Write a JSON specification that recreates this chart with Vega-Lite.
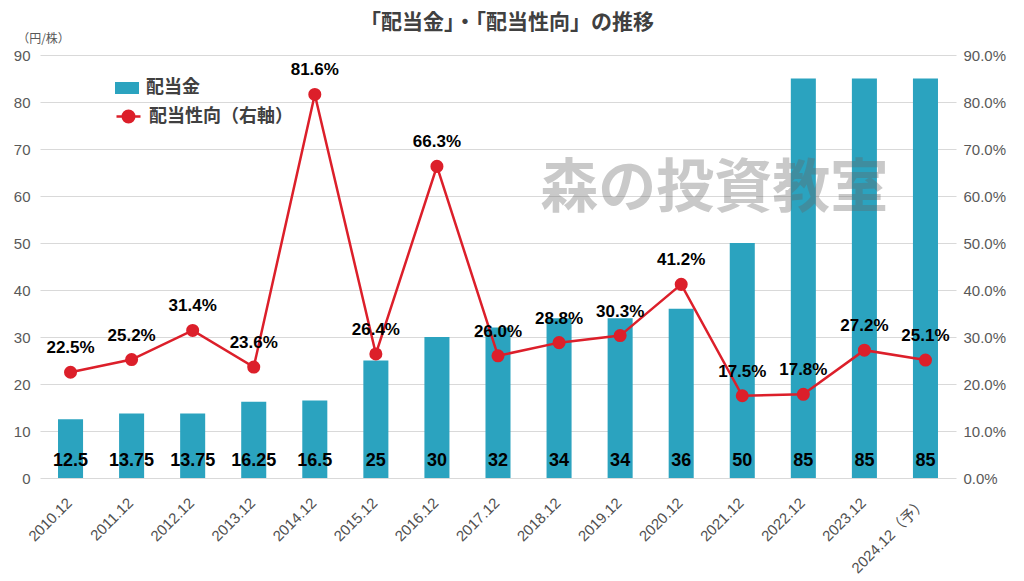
{
  "$schema": "https://vega.github.io/schema/vega-lite/v6.json",
  "width": 916,
  "height": 423,
  "autosize": "none",
  "padding": {"left": 40, "top": 55, "right": 68, "bottom": 103},
  "background": "white",
  "config": {
    "font": "Liberation Sans, Noto Sans CJK JP",
    "view": {"stroke": null},
    "axis": {"domain": false, "ticks": false, "labelColor": "#595959", "labelFontSize": 15, "gridColor": "#d9d9d9", "gridWidth": 1}
  },
  "title": {
    "text": "「配当金」・「配当性向」の推移",
    "fontSize": 21,
    "fontWeight": "bold",
    "color": "#404040",
    "font": "Noto Sans CJK JP",
    "anchor": "middle",
    "dx": 9,
    "offset": -1
  },
  "data": {
    "values": [
      {"period": "2010.12", "dividend": 12.5, "rate": 0.225},
      {"period": "2011.12", "dividend": 13.75, "rate": 0.252},
      {"period": "2012.12", "dividend": 13.75, "rate": 0.314},
      {"period": "2013.12", "dividend": 16.25, "rate": 0.236},
      {"period": "2014.12", "dividend": 16.5, "rate": 0.816},
      {"period": "2015.12", "dividend": 25, "rate": 0.264},
      {"period": "2016.12", "dividend": 30, "rate": 0.663},
      {"period": "2017.12", "dividend": 32, "rate": 0.260},
      {"period": "2018.12", "dividend": 34, "rate": 0.288},
      {"period": "2019.12", "dividend": 34, "rate": 0.303},
      {"period": "2020.12", "dividend": 36, "rate": 0.412},
      {"period": "2021.12", "dividend": 50, "rate": 0.175},
      {"period": "2022.12", "dividend": 85, "rate": 0.178},
      {"period": "2023.12", "dividend": 85, "rate": 0.272},
      {"period": "2024.12（予）", "dividend": 85, "rate": 0.251}
    ]
  },
  "encoding": {
    "x": {
      "field": "period",
      "type": "nominal",
      "sort": null,
      "scale": {"paddingInner": 0.59, "paddingOuter": 0.295},
      "axis": {"title": null, "labelAngle": -45, "labelAlign": "right", "labelBaseline": "top", "labelPadding": 17, "labelOffset": -6, "labelFontSize": 15, "labelColor": "#505050", "grid": false}
    }
  },
  "layer": [
    {
      "layer": [
        {
          "mark": {"type": "bar"},
          "encoding": {
            "y": {
              "field": "dividend",
              "type": "quantitative",
              "scale": {"domain": [0, 90]},
              "axis": {
                "values": [0, 10, 20, 30, 40, 50, 60, 70, 80, 90],
                "grid": true,
                "labelPadding": 10,
                "title": "（円/株）",
                "titleAngle": 0,
                "titleX": 3,
                "titleY": -17,
                "titleAlign": "center",
                "titleBaseline": "middle",
                "titleFont": "Noto Sans CJK JP",
                "titleFontSize": 12,
                "titleFontWeight": "normal",
                "titleColor": "#595959"
              }
            },
            "color": {
              "datum": "配当金",
              "scale": {"range": ["#2ba3bf"]},
              "legend": {
                "orient": "none",
                "legendX": 75,
                "legendY": 21,
                "title": null,
                "padding": 0,
                "symbolType": "M-1,-0.5H1V0.5H-1Z",
                "symbolSize": 576,
                "symbolOpacity": 1,
                "symbolStrokeWidth": 0,
                "labelOffset": 7,
                "labelFontSize": 18,
                "labelFontWeight": "bold",
                "labelColor": "#404040",
                "labelFont": "Noto Sans CJK JP"
              }
            }
          }
        },
        {
          "mark": {"type": "text", "fontSize": 18, "fontWeight": "bold", "color": "#000000", "baseline": "middle"},
          "encoding": {
            "y": {"datum": 3.7, "type": "quantitative"},
            "text": {"field": "dividend", "type": "nominal"}
          }
        },
        {
          "data": {"values": [{"mark_text": "森の投資教室"}]},
          "mark": {"type": "text", "fontSize": 58, "fontWeight": "bold", "font": "Noto Sans CJK JP", "color": "#666666", "opacity": 0.35, "baseline": "middle", "align": "center", "dx": 33},
          "encoding": {
            "x": {"datum": "2020.12"},
            "y": {"datum": 61.3, "type": "quantitative"},
            "text": {"field": "mark_text", "type": "nominal"}
          }
        }
      ]
    },
    {
      "layer": [
        {
          "mark": {"type": "line", "strokeWidth": 2.5, "point": {"size": 170, "filled": true, "opacity": 1}},
          "encoding": {
            "y": {
              "field": "rate",
              "type": "quantitative",
              "scale": {"domain": [0, 0.9]},
              "axis": {
                "orient": "right",
                "values": [0, 0.1, 0.2, 0.3, 0.4, 0.5, 0.6, 0.7, 0.8, 0.9],
                "format": ".1%",
                "grid": false,
                "labelPadding": 7,
                "title": null
              }
            },
            "color": {
              "datum": "配当性向（右軸）",
              "scale": {"range": ["#dc1f2a"]},
              "legend": {
                "orient": "none",
                "legendX": 75,
                "legendY": 48,
                "title": null,
                "padding": 0,
                "symbolType": "M-1,0H1M-0.48,0A0.48,0.48,0,1,1,0.48,0A0.48,0.48,0,1,1,-0.48,0Z",
                "symbolSize": 576,
                "symbolFillColor": "#dc1f2a",
                "symbolStrokeColor": "#dc1f2a",
                "symbolStrokeWidth": 2.5,
                "symbolOpacity": 1,
                "labelOffset": 7,
                "labelFontSize": 18,
                "labelFontWeight": "bold",
                "labelColor": "#404040",
                "labelFont": "Noto Sans CJK JP",
                "encode": {"symbols": {"update": {"fill": {"value": "#dc1f2a"}, "stroke": {"value": "#dc1f2a"}, "strokeWidth": {"value": 2.5}}}}
              }
            }
          }
        },
        {
          "mark": {"type": "text", "fontSize": 17, "fontWeight": "bold", "color": "#000000", "baseline": "middle", "dy": -24},
          "encoding": {
            "y": {"field": "rate", "type": "quantitative"},
            "text": {"field": "rate", "type": "quantitative", "format": ".1%"}
          }
        }
      ]
    }
  ],
  "resolve": {"scale": {"y": "independent", "color": "independent"}, "legend": {"color": "independent"}}
}
